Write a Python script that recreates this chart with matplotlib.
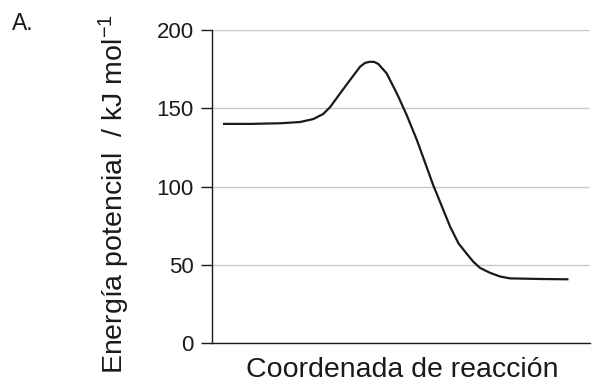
import numpy as np
import matplotlib
matplotlib.use("Agg")
import matplotlib.pyplot as plt

plt.rcParams['font.family'] = ['Liberation Sans', 'DejaVu Sans']
plt.rcParams['mathtext.fontset'] = 'custom'
plt.rcParams['mathtext.rm'] = 'Liberation Sans'
plt.rcParams['mathtext.it'] = 'Liberation Sans'

# reaction coordinate (arbitrary units) and potential energy
coord = [2.9, 10.1, 18.0, 23.3, 26.8, 29.4, 31.2, 33.9, 36.5, 39.2, 40.5,
         41.8, 42.9, 44.0, 46.2, 48.9, 51.5, 54.2, 58.5, 63.0, 65.2, 66.9,
         69.1, 70.9, 73.5, 76.2, 78.8, 86.8, 94.3]
energy = [140, 140, 140.4, 141.2, 143.1, 146.3, 150.6, 159.5, 168, 176.6, 179,
          179.7, 179.6, 178.3, 172.3, 159.5, 145.7, 129.7, 101, 74.3, 63.7, 58.5,
          52, 48, 44.9, 42.5, 41.3, 40.9, 40.7]
yticks = [0, 50, 100, 150, 200]

fig = plt.figure(figsize=(5.93, 3.89), dpi=100)
ax = fig.add_axes([212/593, 1 - 343/389, 378/593, 313/389])

ax.grid(axis='y', color='#c8c8c8', linewidth=1.0)
ax.set_axisbelow(True)
ax.plot(coord, energy, color='#1a1a1a', linewidth=1.6,
        solid_joinstyle='round', solid_capstyle='butt')

ax.set_xlim(0, 100)
ax.set_ylim(0, 200)
ax.set_yticks(yticks)
ax.set_xticks([])
ax.tick_params(axis='y', length=8, width=1, pad=5, labelsize=16, colors='#1a1a1a')
for s in ['top', 'right']:
    ax.spines[s].set_visible(False)
for s in ['left', 'bottom']:
    ax.spines[s].set_linewidth(1.0)
    ax.spines[s].set_color('#1a1a1a')

fig.text(402/593, 1 - 377/389, 'Coordenada de reacción', fontsize=20.5,
         color='#1a1a1a', ha='center', va='baseline')
fig.text(114/593, 1 - 194/389, 'Energía potencial  / kJ mol$^{\u2212 1}$', fontsize=20.5,
         color='#1a1a1a', ha='center', va='center', rotation=90)

fig.text(12/593, 1 - 30/389, 'A.', fontsize=16.5, color='#1a1a1a', ha='left', va='baseline')

fig.savefig('out.png', dpi=100)
